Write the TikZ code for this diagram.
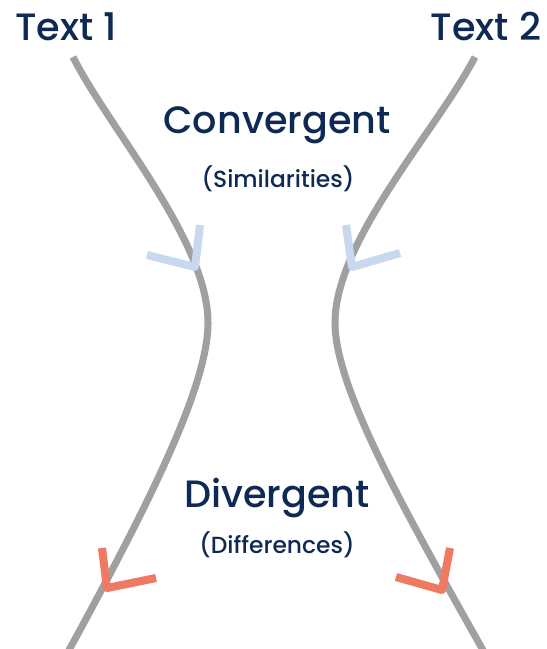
\documentclass[tikz,border=0pt]{standalone}
\usepackage{fontspec}
\setmainfont{Poppins}[UprightFont=* Medium]
\usepackage{xcolor}
\usepackage{tikz}
\usetikzlibrary{positioning}
\definecolor{azulescuro}{RGB}{14,42,84}
\definecolor{azulclaro}{RGB}{200,216,238}
\definecolor{salmao}{RGB}{238,122,98}
\definecolor{cinza}{RGB}{160,160,160}
\tikzset{
  titulo/.style={anchor=base,text=azulescuro,inner sep=0pt,
    font=\fontsize{21.7}{26}\selectfont},
  subtitulo/.style={anchor=base,text=azulescuro,inner sep=0pt,
    font=\fontsize{13.3}{16}\selectfont},
  linha/.style={draw=cinza,line width=4pt},
  pontaazul/.style={draw=azulclaro,line width=4.6pt,line join=round},
  pontasalmao/.style={draw=salmao,line width=4.6pt,line join=round}
}

\begin{document}
\begin{tikzpicture}[x=0.02cm,y=-0.02cm]
\useasboundingbox (0,0) rectangle (547,649);
% rotulos
\node[titulo] (texto1) at (66,40) {Text 1};
\node[titulo] (texto2) at (486,40) {Text 2};
\node[titulo] (convergente) at (277,133) {Convergent};
\node[subtitulo] (semelhancas) at (278,187) {(Similarities)};
\node[titulo] (divergente) at (277,507) {Divergent};
\node[subtitulo] (diferencas) at (277,553) {(Differences)};
% linhas
\draw[linha] (73,57) .. controls (110,130) and (208,240) .. (208,323)
  .. controls (208,390) and (140,520) .. (68,652);
\draw[linha] (475,57) .. controls (437,130) and (335,240) .. (335,323)
  .. controls (335,390) and (410,520) .. (484,652);
% pontas
\draw[pontaazul] (200,225) -- (195,267) -- (147,255);
\draw[pontaazul] (346,225) -- (352,267) -- (400,253);
\draw[pontasalmao] (102,548) -- (107,588) -- (156,578);
\draw[pontasalmao] (450,548) -- (442,590) -- (396,577);
\end{tikzpicture}
\end{document}
